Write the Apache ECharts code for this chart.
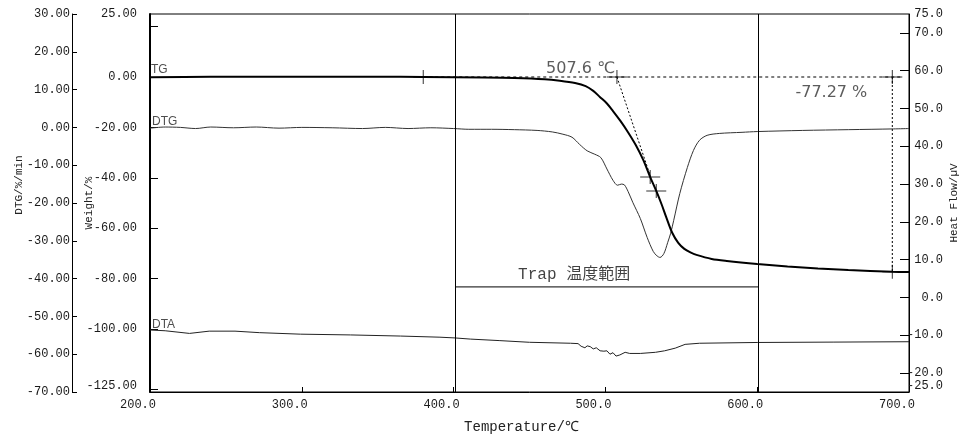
<!DOCTYPE html>
<html>
<head>
<meta charset="utf-8">
<script src="https://cdn.jsdelivr.net/npm/echarts@6/dist/echarts.min.js"></script>
<style>
  html, body { margin: 0; padding: 0; background: #fff; }
  #chart { width: 966px; height: 434px; }
</style>
</head>
<body>
<div id="chart"></div>
<script>
// Axis ranges and tick labels
const tempRange = [200, 700];
const dtgRange = [-70, 30];
const weightRange = [-125, 25];
const heatRange = [-25, 75];
const weightLabels = [25, 0, -20, -40, -60, -80, -100, -125];
const weightTicks = [20, 0, -20, -40, -60, -80, -100, -124];
const heatLabels = [75, 70, 60, 50, 40, 30, 20, 10, 0, -10, -20, -25];
const heatTicks = [70, 60, 50, 40, 30, 20, 10, 0, -10, -20];

// TG curve: temperature (°C), weight change (%)
const tgCurve = [
  [200, -0.1], [240, 0.1], [300, 0.1], [350, 0.1], [380, 0], [420, -0.2],
  [440, -0.4], [460, -0.9], [470, -1.5], [480, -2.4], [487, -3.6], [492, -5.5],
  [496.5, -8], [501, -10.5], [505, -13.5], [510, -17.5], [515, -22], [520, -27],
  [525, -33], [529.5, -39.7], [533.5, -45.2], [537, -50.5], [540, -55.5],
  [544, -61.8], [548, -65.8], [552, -68.2], [556, -69.6], [560, -70.6],
  [570, -72.2], [580, -73], [600, -74.2], [620, -75.2], [640, -76],
  [660, -76.6], [689, -77.27], [700, -77.4]
];

// DTG curve: temperature (°C), %/min
const dtgCurve = [
  [200, -0.2], [210, 0.1], [220, 0], [230, -0.3], [240, 0.1], [255, -0.1],
  [270, 0.1], [285, -0.2], [300, 0], [320, -0.1], [340, -0.3], [355, 0],
  [370, -0.3], [385, -0.1], [400, -0.3], [410, -0.5], [425, -0.5], [440, -0.6],
  [455, -0.8], [465, -1.2], [472, -1.8], [478, -2.6], [483, -4.5], [488, -6.2],
  [493, -7.1], [497, -8], [501, -11], [505, -14], [508, -15.3], [510.5, -15],
  [512.5, -15.2], [515, -17], [518, -19.8], [523, -24.1], [527.5, -29.1],
  [531.5, -32.8], [534, -34], [536, -34.4], [538.5, -33.4], [541, -30.5],
  [543, -28], [545, -24.6], [549, -17.5], [554, -10.6], [558, -6.1],
  [562, -3.4], [567, -2.1], [575, -1.6], [590, -1.3], [600, -1.1],
  [630, -0.8], [660, -0.6], [690, -0.4], [700, -0.3]
];

// DTA curve: temperature (°C), µV
const dtaCurve = [
  [200, -8.6], [210, -8.8], [226, -9.5], [239, -8.9], [256, -8.9], [272, -9.3],
  [299, -9.7], [332, -9.9], [365, -10.2], [391, -10.5], [401, -10.7], [411, -11.0],
  [430, -11.4], [450, -11.85], [477, -12.1], [482, -12.2], [484, -12.9],
  [486.5, -13.3], [488, -12.8], [490, -13.0], [492, -13.6], [494, -13.3],
  [496.5, -14.1], [499, -14.2], [501, -14.1], [503, -15.0], [505, -14.6],
  [507, -15.5], [509.5, -15.2], [513, -14.5], [516, -14.8], [523, -14.8],
  [533, -14.5], [539, -14.1], [546, -13.4], [552.5, -12.4], [562, -12.1],
  [600, -11.9], [650, -11.8], [700, -11.7]
];

// Analysis annotations
const trapRange = [401, 601];
const trapLevel = -83.3;
const onsetTemp = 507.6;
const totalLoss = -77.27;
const lossTemp = 689;
const baselineSpan = [380, 696];
const tangentEnd = [530, -40];
const crossMarks = [[380, 0], [507.6, 0], [529.5, -39.7], [533.5, -45.2], [689, 0], [689, -77.27]];

const MONO = "'Liberation Mono', 'DejaVu Sans Mono', monospace";
const SANS = "'Liberation Sans', Arial, sans-serif";
const AXIS_TXT = { fontFamily: MONO, fontSize: 12, color: '#1a1a1a' };

function textMark(x, y, yAxisIndex, text, pos, align, style) {
  return {
    type: 'scatter', xAxisIndex: 0, yAxisIndex: yAxisIndex,
    data: [[x, y]], symbolSize: 0, silent: true, z: 5,
    label: Object.assign({
      show: true, formatter: text, position: pos, align: align,
      verticalAlign: 'middle', color: '#222', fontFamily: SANS, fontSize: 12
    }, style)
  };
}

const chart = echarts.init(document.getElementById('chart'), null, { renderer: 'canvas' });

chart.setOption({
  animation: false,
  backgroundColor: '#fff',
  grid: {
    left: 150, right: 57, top: 14, bottom: 42,
    outerBoundsMode: 'none', containLabel: false,
    show: true, borderColor: '#000', borderWidth: 1
  },
  xAxis: {
    type: 'value', min: tempRange[0], max: tempRange[1], interval: 100,
    axisLine: { show: true, onZero: false, lineStyle: { color: '#000', width: 1 } },
    axisTick: { show: true, inside: true, length: 5, lineStyle: { color: '#000' } },
    axisLabel: Object.assign({}, AXIS_TXT, {
      margin: 7, padding: [0, 24, 0, 0],
      formatter: v => v.toFixed(1)
    }),
    splitLine: { show: false },
    name: 'Temperature/℃', nameLocation: 'middle', nameGap: 28, nameMoveOverlap: false,
    nameTextStyle: { fontFamily: MONO, fontSize: 14, color: '#222', padding: [0, 16, 0, 0] }
  },
  yAxis: [
    {
      type: 'value', position: 'left', offset: 78,
      min: dtgRange[0], max: dtgRange[1], interval: 10,
      axisLine: { show: true, onZero: false, lineStyle: { color: '#000', width: 1 } },
      axisTick: { show: true, inside: true, length: 5, lineStyle: { color: '#000' } },
      axisLabel: Object.assign({}, AXIS_TXT, { margin: 2, formatter: v => v.toFixed(2) }),
      splitLine: { show: false },
      name: 'DTG/%/min', nameLocation: 'middle', nameGap: 47, nameMoveOverlap: false,
      nameTextStyle: { fontFamily: MONO, fontSize: 11, color: '#222', padding: [0, 0, 0, 36] }
    },
    {
      type: 'value', position: 'left', offset: 0,
      min: weightRange[0], max: weightRange[1],
      axisLine: { show: true, onZero: false, lineStyle: { color: '#000', width: 2 } },
      axisTick: { show: true, inside: true, length: 8, customValues: weightTicks, lineStyle: { color: '#000' } },
      axisLabel: Object.assign({}, AXIS_TXT, {
        margin: 13, customValues: weightLabels,
        formatter: v => (v === weightRange[0] ? '{lo|' + v.toFixed(2) + '}' : v.toFixed(2)),
        rich: { lo: { fontFamily: MONO, fontSize: 12, color: '#1a1a1a', padding: [0, 0, 12, 0] } }
      }),
      splitLine: { show: false },
      name: 'Weight/%', nameLocation: 'middle', nameGap: 55, nameMoveOverlap: false,
      nameTextStyle: { fontFamily: MONO, fontSize: 11, color: '#222' }
    },
    {
      type: 'value', position: 'right', offset: 0,
      min: heatRange[0], max: heatRange[1],
      axisLine: { show: true, onZero: false, lineStyle: { color: '#000', width: 1 } },
      axisTick: { show: true, inside: true, length: 9, customValues: heatTicks, lineStyle: { color: '#000' } },
      axisLabel: Object.assign({}, AXIS_TXT, {
        margin: 34, align: 'right', customValues: heatLabels,
        formatter: v => (v === heatRange[0] ? '{lo|' + v.toFixed(1) + '}' : v.toFixed(1)),
        rich: { lo: { fontFamily: MONO, fontSize: 12, color: '#1a1a1a', padding: [0, 0, 12, 0] } }
      }),
      splitLine: { show: false },
      name: 'Heat Flow/µV', nameLocation: 'middle', nameGap: 40, nameRotate: 90, nameMoveOverlap: false,
      nameTextStyle: { fontFamily: MONO, fontSize: 11, color: '#222' }
    }
  ],
  series: [
    // Trap temperature window: two vertical bounds and the span line
    {
      type: 'line', yAxisIndex: 1, data: [[trapRange[0], trapLevel], [trapRange[1], trapLevel]],
      symbol: 'none', silent: true, lineStyle: { color: '#000', width: 1 }, z: 2,
      markLine: {
        silent: true, symbol: 'none', label: { show: false },
        lineStyle: { color: '#000', width: 1, type: 'solid' },
        data: [{ xAxis: trapRange[0] }, { xAxis: trapRange[1] }]
      }
    },
    // DTA
    {
      type: 'line', yAxisIndex: 2, data: dtaCurve, symbol: 'none', silent: true,
      lineStyle: { color: '#222', width: 1 }, z: 3
    },
    // DTG
    {
      type: 'line', yAxisIndex: 0, data: dtgCurve, symbol: 'none', silent: true, smooth: 0.3,
      lineStyle: { color: '#333', width: 1 }, z: 3
    },
    // TG
    {
      type: 'line', yAxisIndex: 1, data: tgCurve, symbol: 'none', silent: true, smooth: 0.3,
      lineStyle: { color: '#000', width: 2 }, z: 4
    },
    // Onset baseline, tangent and total-loss guide
    {
      type: 'line', yAxisIndex: 1, data: [[baselineSpan[0], 0], [baselineSpan[1], 0]],
      symbol: 'none', silent: true, lineStyle: { color: '#000', width: 1, type: [3, 3] }, z: 4
    },
    {
      type: 'line', yAxisIndex: 1, data: [[onsetTemp, 0], tangentEnd],
      symbol: 'none', silent: true, lineStyle: { color: '#000', width: 1, type: [2, 2] }, z: 4
    },
    {
      type: 'line', yAxisIndex: 1, data: [[lossTemp, 0], [lossTemp, totalLoss]],
      symbol: 'none', silent: true, lineStyle: { color: '#000', width: 1, type: [2, 2] }, z: 4
    },
    // Cross markers
    {
      type: 'scatter', yAxisIndex: 1, data: crossMarks, silent: true, z: 6,
      symbol: 'path://M0,6.5h20v1h-20zM9.5,0h1v14h-1z', symbolSize: [20, 14],
      itemStyle: { color: '#000' }
    },
    // Curve names and result labels
    textMark(tempRange[0], 0, 1, 'TG', [1, -7], 'left', {}),
    textMark(tempRange[0], 0, 0, 'DTG', [2, -6], 'left', {}),
    textMark(tempRange[0], dtaCurve[0][1], 2, 'DTA', [2, -5], 'left', {}),
    textMark(onsetTemp, 0, 1, onsetTemp.toFixed(1) + ' ℃', [-2, -8], 'right',
      { fontFamily: "'DejaVu Sans', sans-serif", fontSize: 16, color: '#333' }),
    textMark(lossTemp, 0, 1, totalLoss.toFixed(2) + ' %', [-25, 16], 'right',
      { fontFamily: "'DejaVu Sans', sans-serif", fontSize: 16, color: '#333' }),
    textMark(trapRange[0], trapLevel, 1, 'Trap 温度範囲', [63, -12], 'left',
      { fontFamily: "'Liberation Mono', 'Noto Sans CJK JP', monospace", fontSize: 16, color: '#111' })
  ]
});
</script>
</body>
</html>
